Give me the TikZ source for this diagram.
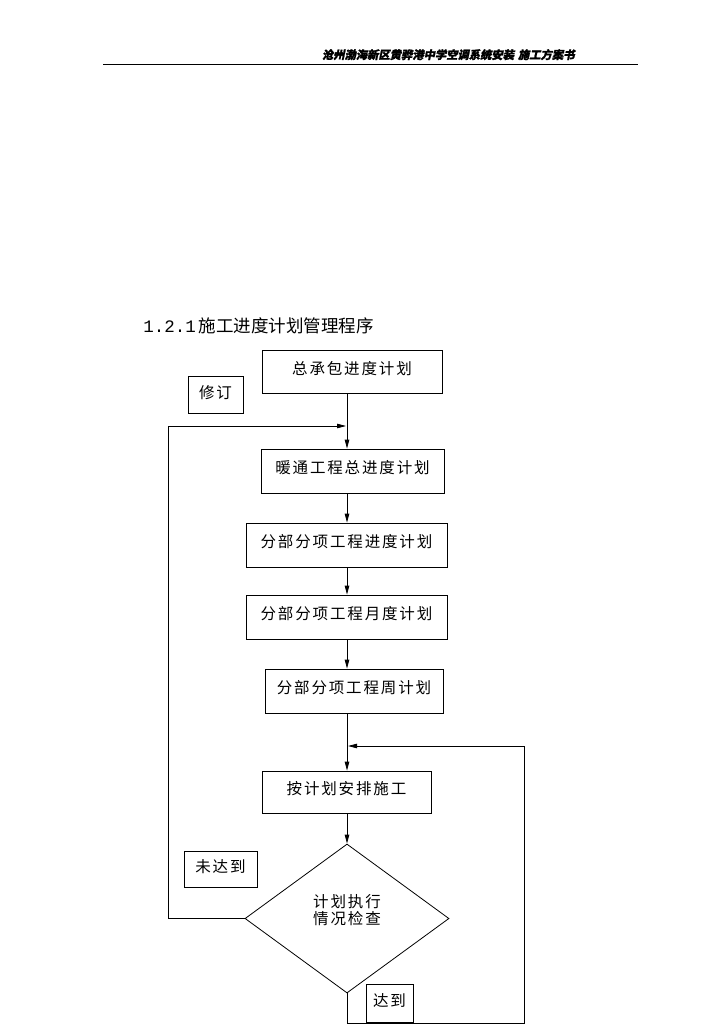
\documentclass[tikz,border=0pt]{standalone}
\usepackage{fontspec}
\usetikzlibrary{shapes.geometric,arrows.meta}
\setmainfont{Noto Sans CJK SC}
\newfontfamily\hdrfont{Noto Sans CJK SC}[FakeSlant=0.2,FakeBold=1.5]
\newfontfamily\boxfont{Noto Sans CJK SC}[LetterSpace=12]
\newfontfamily\numfont{Liberation Mono}
\begin{document}
\begin{tikzpicture}[x=1pt,y=-1pt,
  line width=0.8pt,
  arr/.style={-{Triangle[length=9pt,width=4.5pt]}},
  box/.style={draw,rectangle,inner sep=0pt,text height=13pt,text depth=8pt,font=\boxfont\fontsize{15.5}{18}\selectfont},
  tag/.style={draw,rectangle,inner sep=0pt,text height=13pt,text depth=6pt,font=\boxfont\fontsize{15.5}{18}\selectfont},
  check/.style={draw,diamond,shape aspect=1.37,inner sep=0pt,minimum width=204pt,minimum height=149pt},
  lbl/.style={inner sep=0pt,align=center,font=\boxfont\fontsize{15.5}{17}\selectfont}]
\useasboundingbox (0,0) rectangle (724,1024);
% header
\coordinate (hl) at (103,64);
\coordinate (hr) at (638,64);
\draw[line width=0.9pt] (hl) -- (hr);
\node[anchor=base east,inner sep=0pt,font=\hdrfont\bfseries\fontsize{11.3}{13}\selectfont] (hdr) at (575,59) {沧州渤海新区黄骅港中学空调系统安装\hspace{4pt}施工方案书};
% title
\node[anchor=west,inner sep=0pt,font=\fontsize{17.5}{20}\selectfont] (title) at (143,326) {{\numfont 1.2.1}\,施工进度计划管理程序};
% boxes
\node[box,minimum width=180pt,minimum height=43pt] (b1) at (352,371.5) {总承包进度计划};
\node[tag,minimum width=55pt,minimum height=37pt] (rev) at (215.5,394.5) {修订};
\node[box,minimum width=183pt,minimum height=44pt] (b2) at (352.5,471) {暖通工程总进度计划};
\node[box,minimum width=201pt,minimum height=44pt] (b3) at (346.5,545) {分部分项工程进度计划};
\node[box,minimum width=201pt,minimum height=44pt] (b4) at (346.5,617) {分部分项工程月度计划};
\node[box,minimum width=178pt,minimum height=44pt] (b5) at (354,691) {分部分项工程周计划};
\node[box,minimum width=169pt,minimum height=42pt] (b6) at (346.5,792) {按计划安排施工};
\node[tag,minimum width=73pt,minimum height=36pt] (fail) at (220.5,869) {未达到};
\node[check] (dia) at (347,918.5) {};
\node[lbl] (diat) at (347,910) {计划执行\\情况检查};
\node[tag,minimum width=47pt,minimum height=38pt] (ok) at (389.5,1003) {达到};
% spine
\coordinate (sp) at (347,0);
\coordinate (joinA) at (346,426);
\coordinate (joinB) at (348,746);
\coordinate (lc) at (168,918.5);
\coordinate (bc) at (347,1023);
\coordinate (rc) at (524,1023);
% main arrows
\draw[arr] (b1.south -| sp) -- (b2.north -| sp);
\draw[arr] (b2.south -| sp) -- (b3.north -| sp);
\draw[arr] (b3.south -| sp) -- (b4.north -| sp);
\draw[arr] (b4.south -| sp) -- (b5.north -| sp);
\draw[arr] (b5.south -| sp) -- (b6.north -| sp);
\draw[arr] (b6.south -| sp) -- (dia.north);
% loops
\draw[arr] (dia.west) -- (lc) |- (joinA);
\draw[arr] (dia.south) -- (bc) -- (rc) |- (joinB);
\end{tikzpicture}
\end{document}
